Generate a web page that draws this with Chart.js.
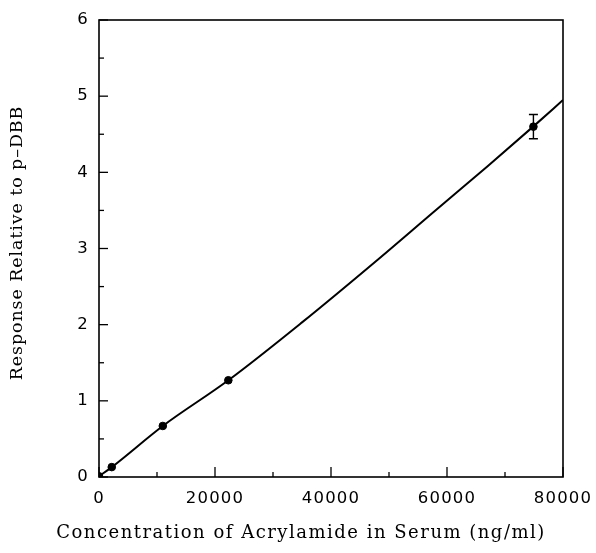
<!DOCTYPE html>
<html>
<head>
<meta charset="utf-8">
<script src="https://cdn.jsdelivr.net/npm/chart.js@4/dist/chart.umd.min.js"></script>
<style>
html,body{margin:0;padding:0;background:#fff;}
#wrap{width:596px;height:553px;position:relative;}
</style>
</head>
<body>
<div id="wrap"><canvas id="c" width="596" height="553"></canvas></div>
<script>
// Measured standards
const concX = [0, 2200, 11000, 22300, 74900];
const respY = [0.01, 0.13, 0.67, 1.27, 4.60];
const errLow = [null, null, null, null, 4.44];
const errHigh = [null, null, null, null, 4.76];
// Calibration curve
const curveX = [0, 2200, 11000, 22300, 35000, 48000, 58000, 67000, 75000, 80000];
const curveY = [0.01, 0.13, 0.67, 1.27, 2.03, 2.85, 3.50, 4.08, 4.61, 4.95];
// Axis ticks
const xLabels = [0, 20000, 40000, 60000, 80000];
const yLabels = [0, 1, 2, 3, 4, 5, 6];
// Axis titles
const xTitle = 'Concentration of Acrylamide in Serum (ng/ml)';
const yTitle = 'Response Relative to p\u2013DBB';

const pts = concX.map((x,i)=>({x:x,y:respY[i]}));
const curve = curveX.map((x,i)=>({x:x,y:curveY[i]}));

const framePlugin = {
  id:'frame',
  beforeDraw(chart){
    chart.ctx.letterSpacing = '1.2px';
  },
  afterDraw(chart){
    const {ctx, chartArea:a, scales} = chart;
    const xs = scales.x, ys = scales.y;
    ctx.save();
    ctx.letterSpacing = '0px';
    ctx.strokeStyle = '#000';
    ctx.lineWidth = 1.6;
    ctx.strokeRect(a.left, a.top, a.right - a.left, a.bottom - a.top);
    // inward ticks
    ctx.lineWidth = 1.3;
    xs.ticks.forEach(t=>{
      const px = xs.getPixelForValue(t.value);
      const major = xLabels.includes(t.value);
      const len = major ? 10 : 5;
      ctx.beginPath(); ctx.moveTo(px, a.bottom); ctx.lineTo(px, a.bottom - len); ctx.stroke();
    });
    ys.ticks.forEach(t=>{
      const py = ys.getPixelForValue(t.value);
      const major = yLabels.includes(t.value);
      const len = major ? 9 : 5;
      ctx.beginPath(); ctx.moveTo(a.left, py); ctx.lineTo(a.left + len, py); ctx.stroke();
    });
    // error bars
    ctx.lineWidth = 1.4;
    concX.forEach((x,i)=>{
      if (errLow[i] == null) return;
      const px = xs.getPixelForValue(x);
      const y1 = ys.getPixelForValue(errLow[i]);
      const y2 = ys.getPixelForValue(errHigh[i]);
      ctx.beginPath();
      ctx.moveTo(px, y1); ctx.lineTo(px, y2);
      ctx.moveTo(px-4.5, y1); ctx.lineTo(px+4.5, y1);
      ctx.moveTo(px-4.5, y2); ctx.lineTo(px+4.5, y2);
      ctx.stroke();
    });
    // axis titles
    ctx.fillStyle = '#000';
    ctx.textAlign = 'center';
    ctx.textBaseline = 'middle';
    ctx.font = '18px "DejaVu Serif"';
    ctx.letterSpacing = '1.5px';
    ctx.fillText(xTitle, 301, 533);
    ctx.save();
    ctx.translate(17, 243);
    ctx.rotate(-Math.PI/2);
    ctx.font = '17.5px "DejaVu Serif"';
    ctx.letterSpacing = '0.9px';
    ctx.fillText(yTitle, 0, 0);
    ctx.restore();
    ctx.restore();
    ctx.letterSpacing = '0px';
  }
};

new Chart(document.getElementById('c'), {
  type:'scatter',
  data:{
    datasets:[
      {label:'curve', data:curve, showLine:true, borderColor:'#000', borderWidth:2,
       pointRadius:0, cubicInterpolationMode:'monotone', fill:false, order:2},
      {label:'standards', data:pts, showLine:false, backgroundColor:'#000', borderColor:'#000',
       pointRadius:3.8, pointHoverRadius:3.8, order:1}
    ]
  },
  options:{
    responsive:false,
    animation:false,
    events:[],
    layout:{padding:{top:20,right:33,left:0,bottom:0}},
    plugins:{legend:{display:false}, tooltip:{enabled:false}},
    scales:{
      x:{
        type:'linear', min:0, max:80000,
        afterFit(s){ s.height = 76; s.paddingRight = 0; s.paddingLeft = 0; },
        grid:{display:false, drawTicks:false},
        border:{display:false},
        ticks:{stepSize:10000, padding:12, color:'#000', maxRotation:0, autoSkip:false,
          font:{family:'DejaVu Sans', size:16.5},
          callback:(v)=> xLabels.includes(v) ? String(v) : ''},
        title:{display:false}
      },
      y:{
        type:'linear', min:0, max:6,
        afterFit(s){ s.width = 99; s.paddingTop = 0; s.paddingBottom = 0; },
        grid:{display:false, drawTicks:false},
        border:{display:false},
        ticks:{stepSize:0.5, padding:10, color:'#000', autoSkip:false,
          font:{family:'DejaVu Sans', size:16.5},
          callback:(v)=> yLabels.includes(v) ? String(v) : ''},
        title:{display:false}
      }
    }
  },
  plugins:[framePlugin]
});
</script>
</body>
</html>
